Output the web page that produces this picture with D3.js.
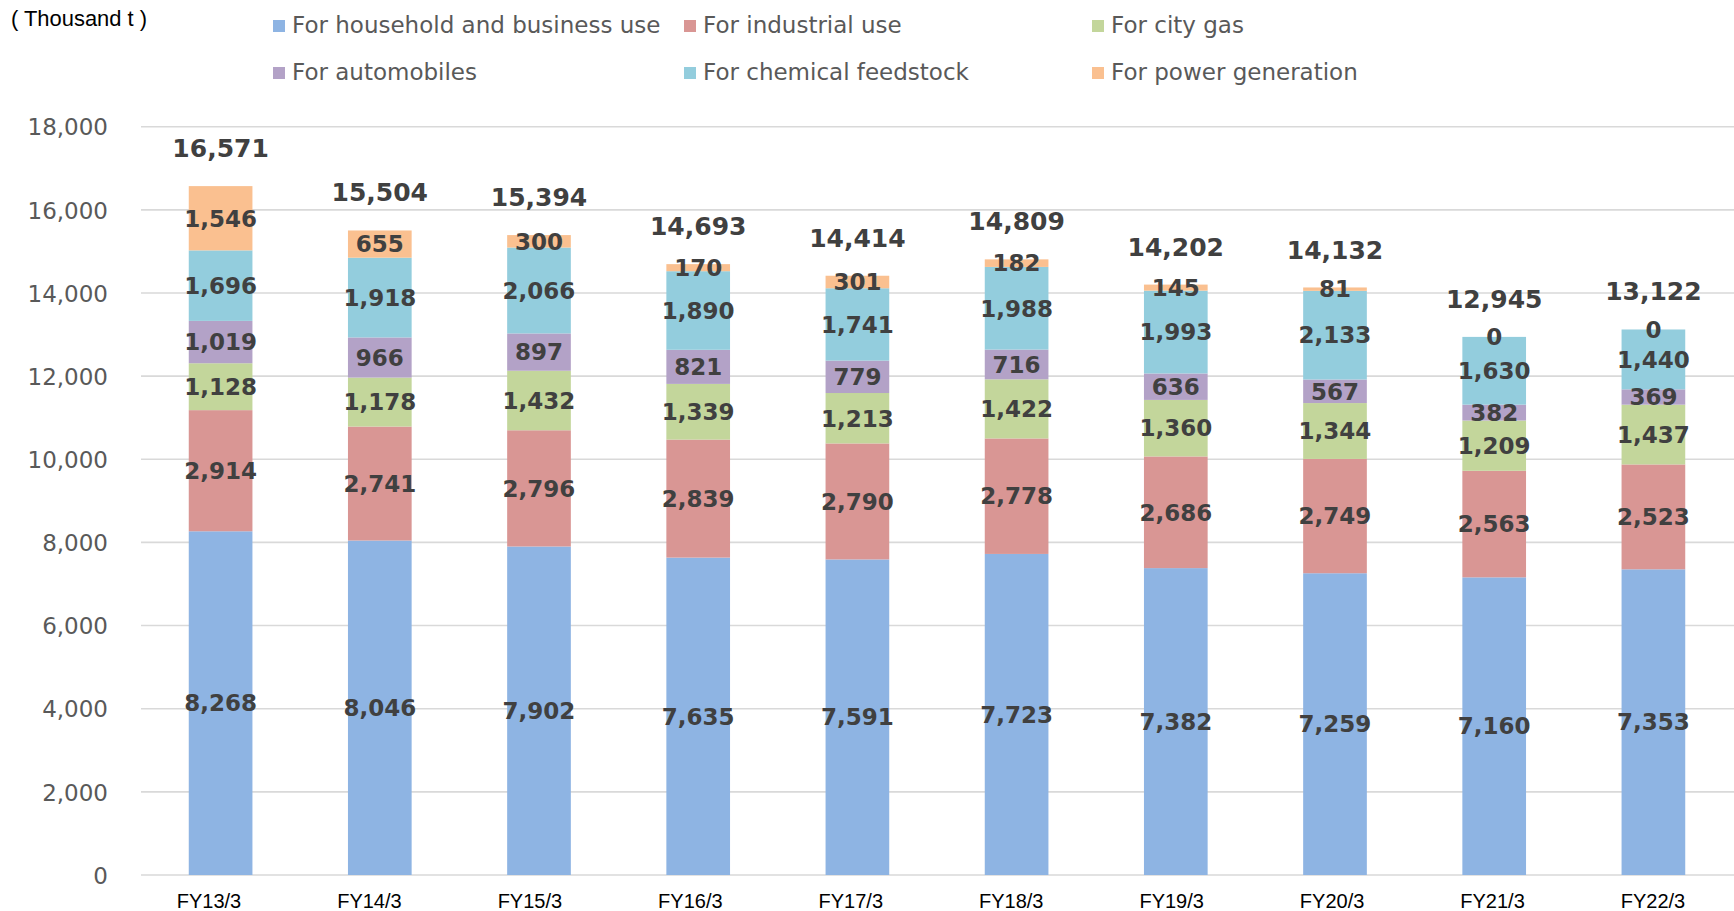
<!DOCTYPE html>
<html>
<head>
<meta charset="utf-8">
<script src="https://cdn.jsdelivr.net/npm/d3@7"></script>
<style>
  html, body { margin: 0; padding: 0; background: #fff; }
  svg { display: block; }
</style>
</head>
<body>
<svg id="chart" width="1734" height="911"></svg>
<script>
const categories = ["FY13/3","FY14/3","FY15/3","FY16/3","FY17/3","FY18/3","FY19/3","FY20/3","FY21/3","FY22/3"];
const seriesNames = ["For household and business use","For industrial use","For city gas","For automobiles","For chemical feedstock","For power generation"];
const household  = [8268, 8046, 7902, 7635, 7591, 7723, 7382, 7259, 7160, 7353];
const industrial = [2914, 2741, 2796, 2839, 2790, 2778, 2686, 2749, 2563, 2523];
const cityGas    = [1128, 1178, 1432, 1339, 1213, 1422, 1360, 1344, 1209, 1437];
const automobiles= [1019, 966, 897, 821, 779, 716, 636, 567, 382, 369];
const chemical   = [1696, 1918, 2066, 1890, 1741, 1988, 1993, 2133, 1630, 1440];
const power      = [1546, 655, 300, 170, 301, 182, 145, 81, 0, 0];
const totals     = [16571, 15504, 15394, 14693, 14414, 14809, 14202, 14132, 12945, 13122];
const yTicks     = [0, 2000, 4000, 6000, 8000, 10000, 12000, 14000, 16000, 18000];
const unitLabel  = "( Thousand t )";
const colors     = ["#8EB4E3","#D99694","#C3D69B","#B3A2C7","#93CDDD","#FAC090"];

const seriesValues = [household, industrial, cityGas, automobiles, chemical, power];
const keys = seriesNames;
const table = categories.map((c, i) => {
  const row = { cat: c };
  keys.forEach((k, j) => row[k] = seriesValues[j][i]);
  return row;
});
const stacked = d3.stack().keys(keys)(table);

const svg = d3.select("#chart");
const fmt = d3.format(",");

const x = d3.scaleBand().domain(categories).range([141, 1733]).paddingInner(0.6).paddingOuter(0.3);
const y = d3.scaleLinear().domain([0, 18000]).range([875, 126.7]);
const xLab = d3.scalePoint().domain(categories).range([209, 1653]);

// gridlines
svg.append("g").selectAll("line").data(yTicks).join("line")
  .attr("x1", 141).attr("x2", 1734)
  .attr("y1", d => y(d)).attr("y2", d => y(d))
  .attr("stroke", "#D9D9D9").attr("stroke-width", 1.6);

// y axis labels
const yAxis = d3.axisLeft(y).tickValues(yTicks).tickFormat(fmt).tickSize(0).tickPadding(0);
const yg = svg.append("g").attr("transform", "translate(108,0)").call(yAxis);
yg.select(".domain").remove();
yg.selectAll("text")
  .attr("font-family", "'DejaVu Sans', Verdana, sans-serif")
  .attr("font-size", 23).attr("fill", "#595959").attr("dy", "0.36em");

// bars
const layers = svg.append("g").selectAll("g").data(stacked).join("g")
  .attr("fill", (d, i) => colors[i]);
layers.selectAll("rect").data(d => d).join("rect")
  .attr("x", d => x(d.data.cat))
  .attr("width", x.bandwidth())
  .attr("y", d => y(d[1]))
  .attr("height", d => y(d[0]) - y(d[1]));

// segment labels
const labG = svg.append("g")
  .attr("font-family", "'DejaVu Sans', Verdana, sans-serif")
  .attr("font-weight", "bold").attr("font-size", 23)
  .attr("fill", "#404040").attr("text-anchor", "middle");
stacked.forEach(layer => {
  labG.selectAll(null).data(layer).join("text")
    .attr("x", d => x(d.data.cat) + x.bandwidth() / 2)
    .attr("y", d => y((d[0] + d[1]) / 2))
    .attr("dy", "0.36em")
    .text(d => fmt(d[1] - d[0]));
});

// totals
svg.append("g").selectAll("text").data(categories).join("text")
  .attr("x", d => x(d) + x.bandwidth() / 2)
  .attr("y", (d, i) => y(totals[i]) - 29)
  .attr("text-anchor", "middle")
  .attr("font-family", "'DejaVu Sans', Verdana, sans-serif")
  .attr("font-weight", "bold").attr("font-size", 25)
  .attr("fill", "#404040")
  .text((d, i) => fmt(totals[i]));

// x axis labels
svg.append("g").selectAll("text").data(categories).join("text")
  .attr("x", d => xLab(d)).attr("y", 908)
  .attr("text-anchor", "middle")
  .attr("font-family", "'Liberation Sans', Arial, sans-serif")
  .attr("font-size", 20).attr("fill", "#000")
  .text(d => d);

// unit label
svg.append("text").attr("x", 11).attr("y", 26)
  .attr("font-family", "'Liberation Sans', Arial, sans-serif")
  .attr("font-size", 22).attr("fill", "#000")
  .attr("textLength", 136).attr("lengthAdjust", "spacingAndGlyphs")
  .text(unitLabel);

// legend
const legX = [273, 684, 1092];
const legY = [20, 67];
const leg = svg.append("g").selectAll("g").data(seriesNames).join("g")
  .attr("transform", (d, i) => `translate(${legX[i % 3]},${legY[Math.floor(i / 3)]})`);
leg.append("rect").attr("width", 12).attr("height", 12).attr("fill", (d, i) => colors[i]);
leg.append("text").attr("x", 19).attr("y", 13)
  .attr("font-family", "'DejaVu Sans', Verdana, sans-serif")
  .attr("font-size", 23).attr("fill", "#595959")
  .text(d => d);
</script>
</body>
</html>
